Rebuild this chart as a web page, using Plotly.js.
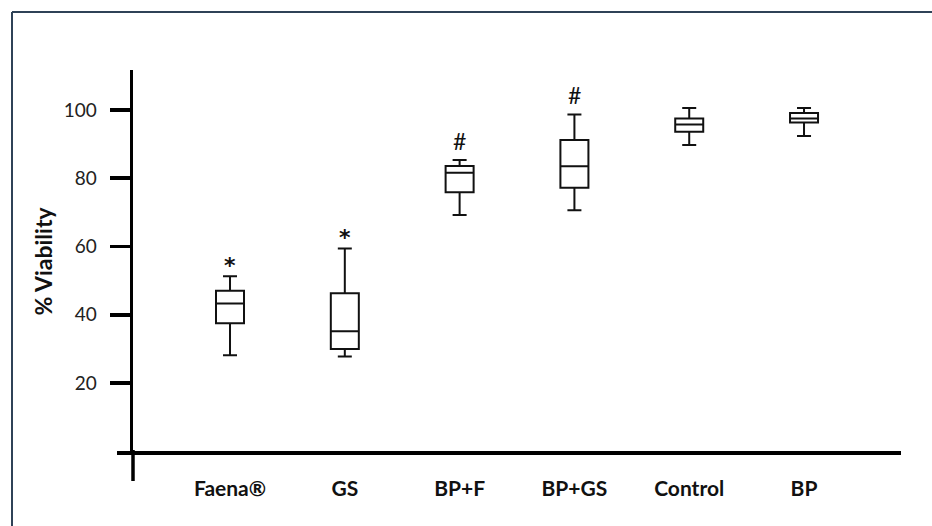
<!DOCTYPE html>
<html>
<head>
<meta charset="utf-8">
<script src="https://cdn.plot.ly/plotly-3.0.1.min.js"></script>
<style>html,body{margin:0;padding:0;background:#fff;}#chart{width:932px;height:526px;}</style>
</head>
<body>
<div id="chart"></div>
<script>
const categories = ['Faena®', 'GS', 'BP+F', 'BP+GS', 'Control', 'BP'];
const lowerWhisker = [28.1, 27.8, 69.2, 70.6, 89.7, 92.4];
const q1 = [37.5, 30.0, 75.9, 77.2, 93.6, 96.3];
const median = [43.3, 35.2, 81.6, 83.5, 95.7, 97.5];
const q3 = [47.0, 46.3, 83.6, 91.2, 97.5, 99.1];
const upperWhisker = [51.3, 59.4, 85.3, 98.7, 100.6, 100.6];
const marks = ['*', '*', '#', '#', '', ''];
const yTicks = [20, 40, 60, 80, 100];

const FONT = 'Lato, "Open Sans", sans-serif';

const trace = {
  type: 'box',
  x: categories,
  q1: q1,
  median: median,
  q3: q3,
  lowerfence: lowerWhisker,
  upperfence: upperWhisker,
  boxpoints: false,
  width: 0.244,
  whiskerwidth: 0.5,
  fillcolor: '#ffffff',
  line: {color: '#111111', width: 2},
  hoverinfo: 'skip',
  showlegend: false
};

const annotations = categories.map((c, i) => ({
  x: c, y: upperWhisker[i], xref: 'x', yref: 'y',
  text: marks[i], showarrow: false, yanchor: 'middle',
  yshift: marks[i] === '*' ? 11 : 19,
  font: marks[i] === '*'
    ? {family: '"DejaVu Sans", sans-serif', size: 22, color: '#111111', weight: 'bold'}
    : {family: FONT, size: 23, color: '#111111'}
})).filter(a => a.text !== '');

const plotH = 383, plotW = 767;
const px = v => (v - 133) / plotW;
const py = v => (453 - v) / plotH;

const shapes = [
  {type: 'line', xref: 'paper', yref: 'paper', x0: px(117), x1: px(901), y0: py(453), y1: py(453), line: {color: '#000', width: 4}},
  {type: 'line', xref: 'paper', yref: 'paper', x0: 0, x1: 0, y0: py(450), y1: py(481), line: {color: '#000', width: 3.5}},
  {type: 'line', xref: 'paper', yref: 'paper', x0: px(12), x1: px(940), y0: py(12), y1: py(12), line: {color: '#2f4257', width: 2}},
  {type: 'line', xref: 'paper', yref: 'paper', x0: px(12), x1: px(12), y0: py(12), y1: py(540), line: {color: '#2f4257', width: 2}}
];

const layout = {
  width: 932, height: 526,
  margin: {l: 133, r: 32, t: 70, b: 73},
  paper_bgcolor: '#ffffff', plot_bgcolor: '#ffffff',
  font: {family: FONT, color: '#111111'},
  xaxis: {
    type: 'category',
    range: [-0.845, 5.836],
    showline: false, showgrid: false, zeroline: false,
    ticks: '',
    ticklabelstandoff: 21,
    tickfont: {family: FONT, size: 21, color: '#111111', weight: 'bold'}
  },
  yaxis: {
    range: [-0.5, 111.7],
    tickvals: yTicks,
    showline: true, linecolor: '#000', linewidth: 3.5,
    ticks: 'outside', ticklen: 20, tickwidth: 3.5, tickcolor: '#000',
    ticklabelstandoff: 9,
    showgrid: false, zeroline: false,
    tickfont: {family: FONT, size: 19, color: '#222222'},
    title: {text: '% Viability', standoff: 5, font: {family: FONT, size: 23, color: '#111111', weight: 'bold'}}
  },
  annotations: annotations,
  shapes: shapes
};

Plotly.newPlot('chart', [trace], layout, {displayModeBar: false, staticPlot: true});
</script>
</body>
</html>
